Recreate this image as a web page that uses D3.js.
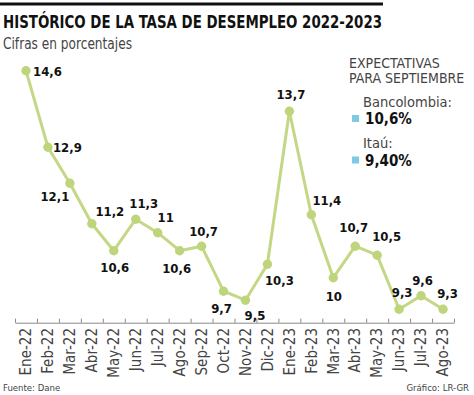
<!DOCTYPE html>
<html><head><meta charset="utf-8">
<script src="https://cdn.jsdelivr.net/npm/d3@7"></script>
<style>
body{margin:0;background:#fff;}
svg{display:block;}
text{font-family:"Liberation Sans Narrow","DejaVu Sans Condensed","Open Sans",sans-serif;}
</style></head>
<body>
<script>
const months = ["Ene-22","Feb-22","Mar-22","Abr-22","May-22","Jun-22","Jul-22","Ago-22","Sep-22","Oct-22","Nov-22","Dic-22","Ene-23","Feb-23","Mar-23","Abr-23","May-23","Jun-23","Jul-23","Ago-23"];
const values = [14.6,12.9,12.1,11.2,10.6,11.3,11,10.6,10.7,9.7,9.5,10.3,13.7,11.4,10,10.7,10.5,9.3,9.6,9.3];
const valueLabels = ["14,6","12,9","12,1","11,2","10,6","11,3","11","10,6","10,7","9,7","9,5","10,3","13,7","11,4","10","10,7","10,5","9,3","9,6","9,3"];
const expectNames = ["Bancolombia:","Itaú:"];
const expectValues = ["10,6%","9,40%"];
// label offsets (style)
const labelOffsets = [[21.5,1],[19.5,0],[-15,13],[18,-12],[1,17],[8,-16],[8,-15],[-3,18],[2,-15],[-2,17],[9.5,15],[12,16],[1.5,-17],[15.5,-14],[0.5,19],[-1.5,-19],[9.5,-19],[3,-17],[1.5,-15.5],[4.5,-16]];

const W=474,H=395;
const svg=d3.select("body").append("svg").attr("width",W).attr("height",H);

svg.append("rect").attr("x",0).attr("y",2.5).attr("width",383).attr("height",3).attr("fill","#111");
svg.append("text").attr("x",3).attr("y",28).attr("font-size",18).attr("font-weight","bold").attr("fill","#111")
  .attr("textLength",379).attr("lengthAdjust","spacingAndGlyphs")
  .text("HISTÓRICO DE LA TASA DE DESEMPLEO 2022-2023");
svg.append("text").attr("x",3).attr("y",49).attr("font-size",15).attr("fill","#444")
  .attr("textLength",129).attr("lengthAdjust","spacingAndGlyphs")
  .text("Cifras en porcentajes");

const x=d3.scaleBand().domain(months).range([15,454]);
const xe=d3.scaleLinear().domain([0,months.length]).range([15,454]);
const y=d3.scaleLinear().domain([9,15]).range([322.7,52.7]);

const ax=svg.append("g").attr("transform","translate(0,322.7)")
  .call(d3.axisBottom(xe).tickValues(d3.range(months.length+1)).tickSize(-4).tickSizeOuter(0).tickFormat(""));
ax.select(".domain").attr("stroke","#888");
ax.selectAll(".tick line").attr("stroke","#888");

svg.append("g").selectAll("text").data(months).join("text")
  .attr("transform",d=>`translate(${x(d)+x.bandwidth()/2},328) rotate(-90)`)
  .attr("text-anchor","end").attr("dy","0.35em")
  .attr("font-size",15).attr("fill","#444").text(d=>d);

const pts=months.map((m,i)=>({m,v:values[i],l:valueLabels[i],o:labelOffsets[i]}));
const line=d3.line().x(d=>x(d.m)+x.bandwidth()/2).y(d=>y(d.v));
svg.append("path").datum(pts).attr("d",line).attr("fill","none").attr("stroke","#c3d784").attr("stroke-width",3).attr("stroke-linejoin","round");
svg.append("g").selectAll("circle").data(pts).join("circle")
  .attr("cx",d=>x(d.m)+x.bandwidth()/2).attr("cy",d=>y(d.v)).attr("r",4.7).attr("fill","#bed57c");
svg.append("g").selectAll("text").data(pts).join("text")
  .attr("x",d=>x(d.m)+x.bandwidth()/2+d.o[0]).attr("y",d=>y(d.v)+d.o[1])
  .attr("text-anchor","middle").attr("dominant-baseline","central")
  .attr("font-size",13).attr("font-weight","bold").attr("fill","#111").text(d=>d.l);

// expectations
svg.append("text").attr("x",349).attr("y",68).attr("font-size",14).attr("fill","#444").text("EXPECTATIVAS");
svg.append("text").attr("x",349).attr("y",83).attr("font-size",14).attr("fill","#444").text("PARA SEPTIEMBRE");
expectNames.forEach((n,i)=>{
  const y0=106.5+i*41.5;
  svg.append("text").attr("x",363).attr("y",y0).attr("font-size",14.5).attr("fill","#444").text(n);
  svg.append("rect").attr("x",352).attr("y",y0+8.5).attr("width",7).attr("height",7).attr("fill","#7fc9e4");
  svg.append("text").attr("x",365).attr("y",y0+17.5).attr("font-size",15).attr("font-weight","bold").attr("fill","#111").text(expectValues[i]);
});

svg.append("text").attr("x",3).attr("y",391).attr("font-size",9.5).attr("fill","#444").text("Fuente: Dane");
svg.append("text").attr("x",469).attr("y",391).attr("text-anchor","end").attr("font-size",9.5).attr("fill","#444").text("Gráfico: LR-GR");
</script>
</body></html>
